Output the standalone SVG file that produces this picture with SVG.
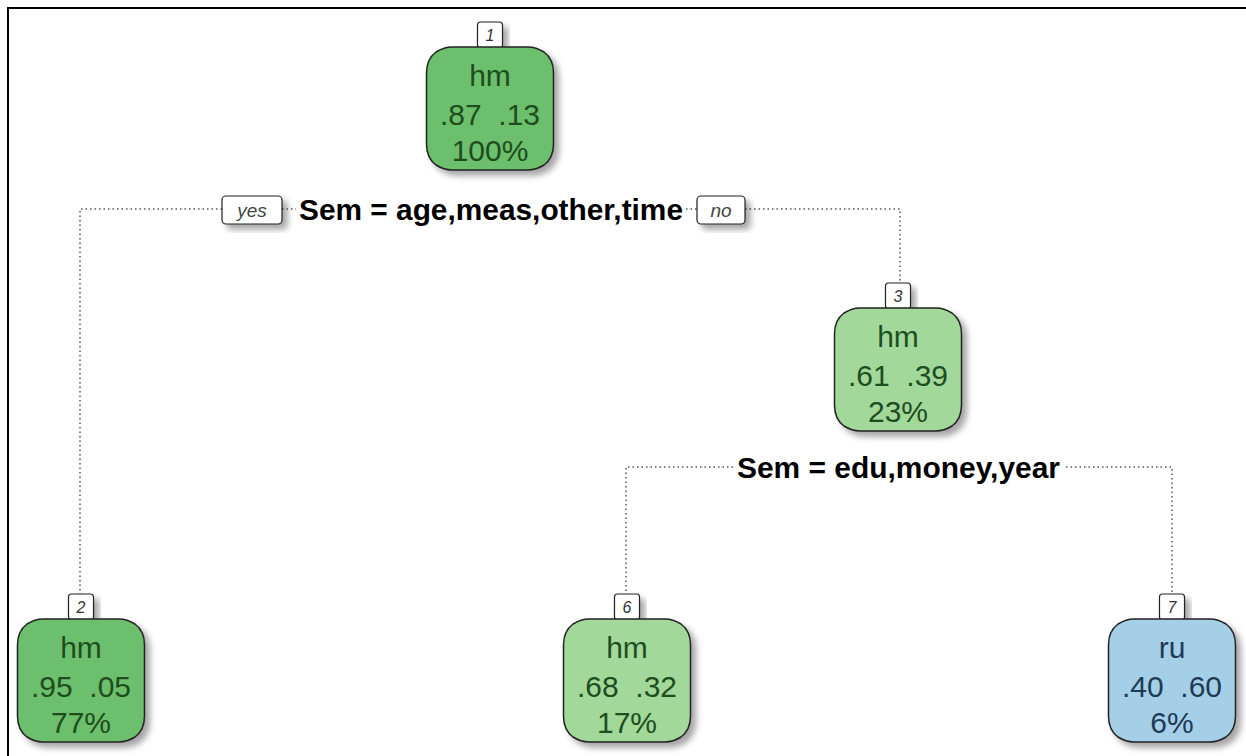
<svg xmlns="http://www.w3.org/2000/svg" width="1246" height="756" viewBox="0 0 1246 756">
<style>
.frame{stroke:#000;stroke-width:2;fill:none}
.conn{stroke:#555;stroke-width:1.5;fill:none;stroke-dasharray:1.5 3}
.node{stroke:#222;stroke-width:1.5}
.lbl{fill:#fff;stroke:#222;stroke-width:1.2}
.num{font-family:"Liberation Sans",Arial,sans-serif;font-size:16px;font-style:italic;fill:#333;text-anchor:middle}
.nt{font-family:"Liberation Sans",Arial,sans-serif;font-size:30px;text-anchor:middle}
.split{font-family:"Liberation Sans",Arial,sans-serif;font-size:29px;font-weight:bold;fill:#000}
.yn{font-family:"Liberation Sans",Arial,sans-serif;font-size:19px;font-style:italic;fill:#444;text-anchor:middle}
.g{fill:#1e4d1e}
.b{fill:#1e3a55}
</style>
<defs>
<filter id="sh" x="-20%" y="-20%" width="150%" height="150%">
<feDropShadow dx="5" dy="5" stdDeviation="3" flood-color="#000" flood-opacity="0.35"/>
</filter>
<path id="shape" d="M -38 0 H 38 Q 46 0 54 5 Q 63.5 12 63.5 26 V 97 Q 63.5 111 54 118 Q 46 123 38 123 H -38 Q -46 123 -54 118 Q -63.5 111 -63.5 97 V 26 Q -63.5 12 -54 5 Q -46 0 -38 0 Z"/>
</defs>
<rect width="1246" height="756" fill="#fff"/>
<path class="frame" d="M 8 756 V 8 H 1246"/>

<g id="connectors">
<path class="conn" d="M 222 209 H 80 V 594"/>
<path class="conn" d="M 282 209 H 296"/>
<path class="conn" d="M 686 209 H 697"/>
<path class="conn" d="M 745 209 H 900 V 283"/>
<path class="conn" d="M 733 467 H 626 V 594"/>
<path class="conn" d="M 1066 467 H 1172 V 594"/>
</g>

<g id="split1">
<rect class="lbl" x="222" y="196" width="60" height="28" rx="4" filter="url(#sh)"/>
<text class="yn" x="252" y="217">yes</text>
<text class="split" x="299" y="220" textLength="384" lengthAdjust="spacingAndGlyphs">Sem = age,meas,other,time</text>
<rect class="lbl" x="697" y="196" width="48" height="28" rx="4" filter="url(#sh)"/>
<text class="yn" x="721" y="217">no</text>
</g>

<g id="split2">
<text class="split" x="737" y="478" textLength="323" lengthAdjust="spacingAndGlyphs">Sem = edu,money,year</text>
</g>

<g id="node1" transform="translate(490,47)">
<rect class="lbl" x="-12.5" y="-25" width="25" height="26" rx="3" filter="url(#sh)"/>
<text class="num" x="0" y="-6">1</text>
<use href="#shape" class="node" fill="#6cbf6c" filter="url(#sh)"/>
<text class="nt g" x="0" y="39">hm</text>
<text class="nt g" x="0" y="78" xml:space="preserve">.87  .13</text>
<text class="nt g" x="0" y="114">100%</text>
</g>

<g id="node2" transform="translate(81,619)">
<rect class="lbl" x="-12.5" y="-25" width="25" height="26" rx="3" filter="url(#sh)"/>
<text class="num" x="0" y="-6">2</text>
<use href="#shape" class="node" fill="#6cbf6c" filter="url(#sh)"/>
<text class="nt g" x="0" y="39">hm</text>
<text class="nt g" x="0" y="78" xml:space="preserve">.95  .05</text>
<text class="nt g" x="0" y="114">77%</text>
</g>

<g id="node3" transform="translate(898,308)">
<rect class="lbl" x="-12.5" y="-25" width="25" height="26" rx="3" filter="url(#sh)"/>
<text class="num" x="0" y="-6">3</text>
<use href="#shape" class="node" fill="#a2d89a" filter="url(#sh)"/>
<text class="nt g" x="0" y="39">hm</text>
<text class="nt g" x="0" y="78" xml:space="preserve">.61  .39</text>
<text class="nt g" x="0" y="114">23%</text>
</g>

<g id="node6" transform="translate(627,619)">
<rect class="lbl" x="-12.5" y="-25" width="25" height="26" rx="3" filter="url(#sh)"/>
<text class="num" x="0" y="-6">6</text>
<use href="#shape" class="node" fill="#a2d89a" filter="url(#sh)"/>
<text class="nt g" x="0" y="39">hm</text>
<text class="nt g" x="0" y="78" xml:space="preserve">.68  .32</text>
<text class="nt g" x="0" y="114">17%</text>
</g>

<g id="node7" transform="translate(1172,619)">
<rect class="lbl" x="-12.5" y="-25" width="25" height="26" rx="3" filter="url(#sh)"/>
<text class="num" x="0" y="-6">7</text>
<use href="#shape" class="node" fill="#a5cfe6" filter="url(#sh)"/>
<text class="nt b" x="0" y="39">ru</text>
<text class="nt b" x="0" y="78" xml:space="preserve">.40  .60</text>
<text class="nt b" x="0" y="114">6%</text>
</g>
</svg>
